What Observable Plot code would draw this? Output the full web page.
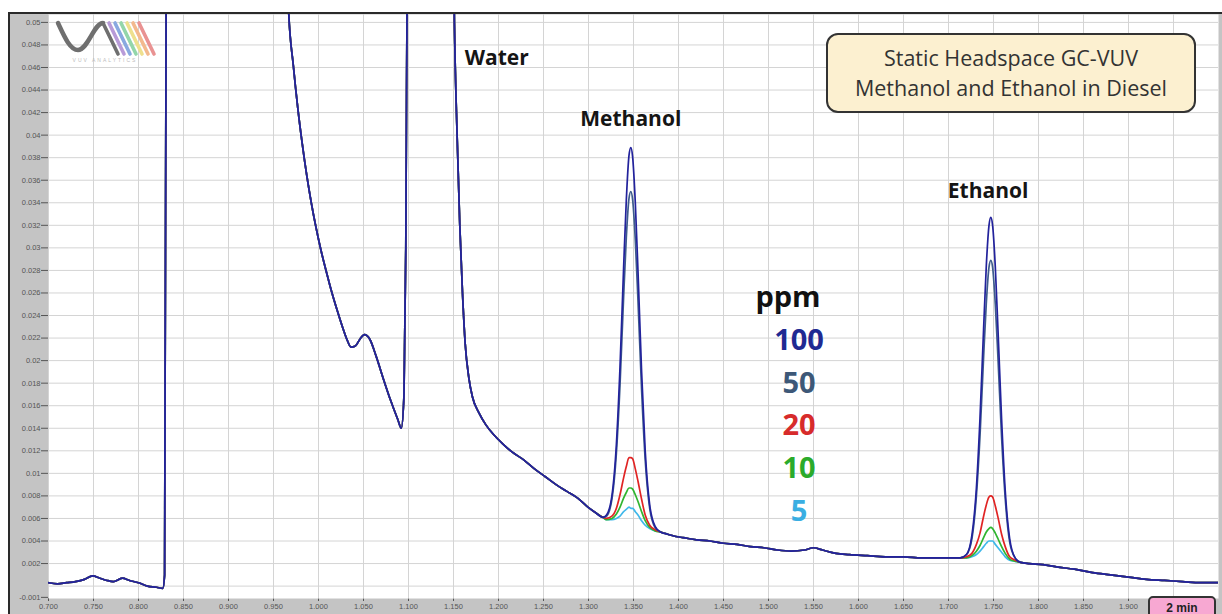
<!DOCTYPE html>
<html>
<head>
<meta charset="utf-8">
<script src="https://cdn.jsdelivr.net/npm/d3@7"></script>
<script src="https://cdn.jsdelivr.net/npm/@observablehq/plot@0.6"></script>
<style>
  html, body { margin: 0; padding: 0; background: #fff; }
  #wrap { position: relative; width: 1222px; height: 614px; overflow: hidden; font-family: "Open Sans", sans-serif; }
  #bg { position: absolute; left: 8px; top: 12px; right: 0; bottom: 0; background: #c4c4c4;
        border-left: 2px solid #2a2a2a; border-top: 2px solid #2a2a2a; }
  #chart { position: absolute; left: 0; top: 0; }
  #title { position: absolute; left: 826px; top: 33px; width: 370px; height: 80px; box-sizing: border-box;
           border: 2px solid #333; border-radius: 12px; background: #fcf0d0; color: #333;
           font-size: 21.5px; line-height: 30px; text-align: center; padding-top: 8px; white-space: nowrap; }
  .leg { position: absolute; width: 110px; text-align: center; font-weight: bold; font-size: 29px; line-height: 34px; }
  #min { position: absolute; left: 1148px; top: 596px; width: 68px; height: 26px; box-sizing: border-box;
         border: 2px solid #333; border-radius: 5px; background: #f7a8d2; color: #222;
         font-family: "Liberation Sans", Arial, sans-serif; font-weight: bold; font-size: 12px; text-align: center; padding-top: 3px; }
  #logo { position: absolute; left: 50px; top: 14px; }
</style>
</head>
<body>
<div id="wrap">
  <div id="bg"></div>
  <div id="chart"></div>
  <svg id="logo" width="110" height="50" viewBox="0 0 110 50">
    <path d="M8,9 C14,22 20,36 28,36 C38,36 44,9 53,9" fill="none" stroke="#6f6f6f" stroke-width="4.5" stroke-linecap="round"/>
    <g fill="none" stroke-width="3.6" stroke-linecap="round">
      <line x1="53" y1="9" x2="68" y2="40" stroke="#6f6f6f"/>
      <line x1="59" y1="9" x2="74" y2="40" stroke="#b89bd8"/>
      <line x1="65" y1="9" x2="80" y2="40" stroke="#88a9e0"/>
      <line x1="71" y1="9" x2="86" y2="40" stroke="#93d6aa"/>
      <line x1="77" y1="9" x2="92" y2="40" stroke="#eee08e"/>
      <line x1="83" y1="9" x2="98" y2="40" stroke="#f3b98e"/>
      <line x1="89" y1="9" x2="104" y2="40" stroke="#e99292"/>
    </g>
    <text x="55" y="48" font-size="5" fill="#bbb" text-anchor="middle" font-family="Liberation Sans" letter-spacing="2">VUV ANALYTICS</text>
  </svg>
  <div id="title">Static Headspace GC-VUV<br>Methanol and Ethanol in Diesel</div>
  <div id="legend"></div>
  <div id="min">2 min</div>
</div>
<script>
// ---- series ----
const series = ["100", "50", "20", "10", "5"];
const lineColors = ["#22229c", "#3e5c8c", "#e02424", "#30b530", "#40b8ea"];
const legendColors = ["#1f2a92", "#3d5878", "#d72b2b", "#2bab2b", "#3aaee2"];

// ---- ticks ----
const xTicks = [0.70, 0.75, 0.80, 0.85, 0.90, 0.95, 1.00, 1.05, 1.10, 1.15, 1.20, 1.25, 1.30, 1.35,
                1.40, 1.45, 1.50, 1.55, 1.60, 1.65, 1.70, 1.75, 1.80, 1.85, 1.90];
const xGrid = [0.70, 0.75, 0.80, 0.85, 0.90, 0.95, 1.00, 1.05, 1.10, 1.15, 1.20, 1.25, 1.30, 1.35,
               1.40, 1.45, 1.50, 1.55, 1.60, 1.65, 1.70, 1.75, 1.80, 1.85, 1.90, 1.95];
const yTicks = [-0.001, 0.002, 0.004, 0.006, 0.008, 0.010, 0.012, 0.014, 0.016, 0.018, 0.020, 0.022, 0.024,
                0.026, 0.028, 0.030, 0.032, 0.034, 0.036, 0.038, 0.040, 0.042, 0.044, 0.046, 0.048, 0.050];
const yGrid = [0.000, 0.002, 0.004, 0.006, 0.008, 0.010, 0.012, 0.014, 0.016, 0.018, 0.020, 0.022, 0.024,
               0.026, 0.028, 0.030, 0.032, 0.034, 0.036, 0.038, 0.040, 0.042, 0.044, 0.046, 0.048, 0.050];

// ---- shared trace: before methanol (min, AU) ----
const preTime = [0.700, 0.710, 0.720, 0.730, 0.740, 0.749, 0.757, 0.765, 0.772, 0.782, 0.790, 0.800, 0.810,
  0.820, 0.827, 0.829, 0.831, 0.900, 0.960, 0.967, 0.972, 0.977, 0.982, 0.987, 0.992, 0.997, 1.003, 1.009,
  1.015, 1.021, 1.027, 1.032, 1.036, 1.041, 1.046, 1.051, 1.057, 1.064, 1.072, 1.080, 1.088, 1.092, 1.095, 1.097,
  1.099, 1.120, 1.148, 1.151, 1.154, 1.157, 1.160, 1.163, 1.167, 1.171, 1.178, 1.186, 1.195, 1.205, 1.215,
  1.228, 1.240, 1.252, 1.264, 1.276, 1.288, 1.298, 1.308, 1.316];
const preValue = [0.0003, 0.0002, 0.0003, 0.0004, 0.0006, 0.0009, 0.0007, 0.0005, 0.0004, 0.0007, 0.0005, 0.0003, 0.0000,
  -0.0001, -0.0002, 0.0010, 0.0600, 0.0900, 0.0700, 0.0507, 0.0462, 0.0424, 0.0392, 0.0364, 0.0340, 0.0319, 0.0297, 0.0278,
  0.0260, 0.0244, 0.0229, 0.0218, 0.0212, 0.0213, 0.0219, 0.0223, 0.0219, 0.0204, 0.0184, 0.0165, 0.0148, 0.0140, 0.0170, 0.0300,
  0.0600, 0.0900, 0.0700, 0.0500, 0.0400, 0.0320, 0.0260, 0.0215, 0.0185, 0.0168, 0.0154, 0.0143, 0.0134, 0.0126, 0.0119,
  0.0112, 0.0104, 0.0097, 0.0090, 0.0084, 0.0078, 0.0071, 0.0065, 0.0061];

// ---- methanol peak ----
const methTime = [1.320, 1.326, 1.331, 1.335, 1.339, 1.342, 1.345, 1.347, 1.349, 1.352, 1.355, 1.359, 1.363, 1.368, 1.374];
const methanol100 = [0.0063, 0.0080, 0.0126, 0.0194, 0.0282, 0.0342, 0.0382, 0.0389, 0.0381, 0.0340, 0.0279, 0.0190, 0.0120, 0.0072, 0.0053];
const methanol50  = [0.0062, 0.0077, 0.0118, 0.0178, 0.0256, 0.0309, 0.0344, 0.0350, 0.0343, 0.0307, 0.0253, 0.0174, 0.0112, 0.0069, 0.0052];
const methanol20  = [0.0060, 0.0062, 0.0069, 0.0081, 0.0096, 0.0106, 0.0114, 0.0114, 0.0113, 0.0104, 0.0093, 0.0077, 0.0063, 0.0054, 0.0050];
const methanol10  = [0.0059, 0.0060, 0.0064, 0.0070, 0.0078, 0.0083, 0.0087, 0.0087, 0.0086, 0.0081, 0.0075, 0.0066, 0.0058, 0.0052, 0.0049];
const methanol5   = [0.0059, 0.0059, 0.0060, 0.0062, 0.0066, 0.0068, 0.0070, 0.0069, 0.0069, 0.0066, 0.0063, 0.0058, 0.0054, 0.0051, 0.0049];

// ---- between peaks ----
const midTime = [1.380, 1.388, 1.397, 1.405, 1.420, 1.435, 1.450, 1.465, 1.480, 1.495, 1.510, 1.525, 1.540, 1.550,
  1.560, 1.575, 1.590, 1.610, 1.630, 1.650, 1.670, 1.690, 1.705, 1.713];
const midValue = [0.0048, 0.0046, 0.0044, 0.0043, 0.0041, 0.0040, 0.0038, 0.0037, 0.0035, 0.0034, 0.0032, 0.0031, 0.0032, 0.0034,
  0.0032, 0.0029, 0.0028, 0.0027, 0.0026, 0.0026, 0.0025, 0.0025, 0.0025, 0.0025];

// ---- ethanol peak ----
const ethTime = [1.720, 1.726, 1.731, 1.735, 1.739, 1.742, 1.745, 1.747, 1.749, 1.752, 1.755, 1.759, 1.763, 1.768, 1.774];
const ethanol100 = [0.0028, 0.0045, 0.0087, 0.0149, 0.0228, 0.0284, 0.0320, 0.0327, 0.0320, 0.0283, 0.0227, 0.0148, 0.0085, 0.0042, 0.0025];
const ethanol50  = [0.0028, 0.0042, 0.0080, 0.0133, 0.0203, 0.0251, 0.0283, 0.0289, 0.0283, 0.0250, 0.0202, 0.0132, 0.0078, 0.0039, 0.0025];
const ethanol20  = [0.0026, 0.0029, 0.0037, 0.0047, 0.0062, 0.0072, 0.0079, 0.0080, 0.0079, 0.0071, 0.0061, 0.0046, 0.0035, 0.0026, 0.0023];
const ethanol10  = [0.0025, 0.0027, 0.0031, 0.0036, 0.0043, 0.0048, 0.0051, 0.0052, 0.0051, 0.0047, 0.0042, 0.0035, 0.0029, 0.0024, 0.0022];
const ethanol5   = [0.0025, 0.0026, 0.0028, 0.0031, 0.0035, 0.0038, 0.0040, 0.0040, 0.0040, 0.0037, 0.0034, 0.0030, 0.0026, 0.0023, 0.0022];

// ---- after ethanol ----
const postTime = [1.780, 1.790, 1.805, 1.820, 1.840, 1.860, 1.880, 1.900, 1.920, 1.940, 1.960, 1.980, 2.000];
const postValue = [0.0021, 0.0020, 0.0019, 0.0017, 0.0015, 0.0012, 0.0010, 0.0008, 0.0006, 0.0005, 0.0004, 0.0003, 0.0003];

// ---- peak annotations ----
const peakNames = ["Water", "Methanol", "Ethanol"];
const peakTime = [1.198, 1.347, 1.744];
const peakLabelValue = [0.0468, 0.0414, 0.0350];

const methBySeries = [methanol100, methanol50, methanol20, methanol10, methanol5];
const ethBySeries = [ethanol100, ethanol50, ethanol20, ethanol10, ethanol5];

const seg = (ts, vs, s) => ts.map((t, i) => ({t, v: vs[i], ppm: s}));
const drawOrder = [4, 3, 2, 1, 0];
const rows = drawOrder.flatMap(k => {
  const s = series[k];
  return [
    ...seg(preTime, preValue, s),
    ...seg(methTime, methBySeries[k], s),
    ...seg(midTime, midValue, s),
    ...seg(ethTime, ethBySeries[k], s),
    ...seg(postTime, postValue, s)
  ];
});
const labels = peakNames.map((n, i) => ({n, t: peakTime[i], v: peakLabelValue[i]}));

const chart = Plot.plot({
  width: 1222, height: 614,
  marginLeft: 48, marginRight: 4, marginTop: 14, marginBottom: 16,
  style: {background: "transparent", fontSize: "7.5px", fontFamily: "Liberation Sans, Arial, sans-serif", color: "#555"},
  x: {domain: [0.7, 2.0], ticks: xTicks, tickFormat: d => d.toFixed(3), tickSize: 3, tickPadding: 2, label: null},
  y: {domain: [-0.0011, 0.0507], ticks: yTicks, tickFormat: d => d < 0 ? "-0.001" : String(+d.toFixed(3)), tickSize: 7, tickPadding: 1, label: null},
  color: {domain: series, range: lineColors},
  marks: [
    Plot.frame({fill: "white", stroke: "none"}),
    Plot.ruleX(xGrid, {stroke: "#d4d4d4", strokeWidth: 1}),
    Plot.ruleY(yGrid, {stroke: "#d4d4d4", strokeWidth: 1}),
    Plot.line(rows, {x: "t", y: "v", z: "ppm", stroke: "ppm", strokeWidth: 1.7, curve: "monotone-x", clip: true}),
    Plot.text(labels, {x: "t", y: "v", text: "n", fontWeight: "bold", fontSize: 21, fill: "#151515", fontFamily: "Open Sans, sans-serif"})
  ]
});
document.getElementById("chart").appendChild(chart);

// ---- legend ----
const legend = document.getElementById("legend");
const head = document.createElement("div");
head.className = "leg"; head.textContent = "ppm";
head.style.left = "733px"; head.style.top = "279px"; head.style.color = "#111";
legend.appendChild(head);
series.forEach((s, i) => {
  const d = document.createElement("div");
  d.className = "leg"; d.textContent = s; d.style.color = legendColors[i];
  d.style.left = "744px"; d.style.top = (322 + i * 42.7) + "px";
  legend.appendChild(d);
});
</script>
</body>
</html>
